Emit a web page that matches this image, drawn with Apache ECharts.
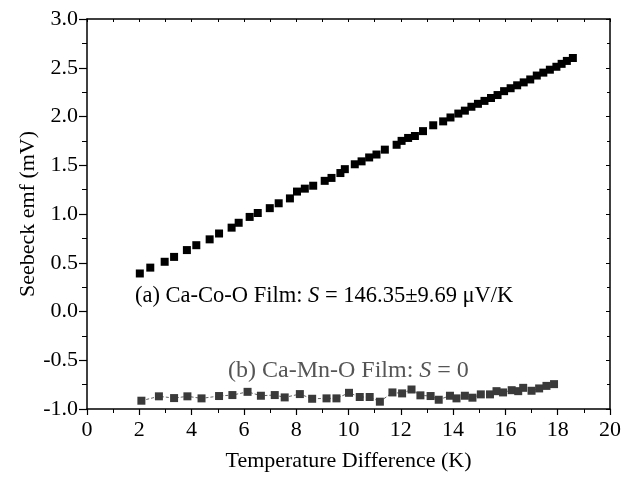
<!DOCTYPE html>
<html>
<head>
<meta charset="utf-8"/>
<title>Seebeck emf</title>
<script src="https://cdn.jsdelivr.net/npm/echarts@6/dist/echarts.min.js"></script>
<style>
    html, body { margin: 0; padding: 0; background: #fff; }
    #chart { width: 632px; height: 477px; }
</style>
</head>
<body>
<div id="chart"></div>
<script>
    // (a) Ca-Co-O film
    var coX = [2.02, 2.42, 2.97, 3.33, 3.82, 4.18, 4.69, 5.05, 5.53, 5.80, 6.22, 6.53, 6.99, 7.33, 7.76,
        8.03, 8.33, 8.65, 9.09, 9.35, 9.69, 9.86, 10.24, 10.50, 10.79, 11.07, 11.39, 11.84, 12.03, 12.28,
        12.54, 12.85, 13.24, 13.62, 13.90, 14.20, 14.45, 14.70, 14.95, 15.20, 15.45, 15.70, 15.95, 16.20,
        16.45, 16.70, 16.95, 17.20, 17.45, 17.70, 17.95, 18.15, 18.35, 18.58];
    var coY = [0.39, 0.45, 0.51, 0.56, 0.63, 0.68, 0.74, 0.80, 0.86, 0.91, 0.97, 1.01, 1.06, 1.11, 1.16,
        1.23, 1.26, 1.29, 1.34, 1.37, 1.42, 1.46, 1.51, 1.54, 1.58, 1.61, 1.66, 1.71, 1.75, 1.78,
        1.80, 1.85, 1.91, 1.95, 1.99, 2.03, 2.06, 2.10, 2.13, 2.16, 2.19, 2.22, 2.26, 2.29,
        2.32, 2.35, 2.38, 2.42, 2.45, 2.48, 2.51, 2.54, 2.57, 2.60];

    // (b) Ca-Mn-O film
    var mnX = [2.08, 2.75, 3.33, 3.84, 4.38, 5.05, 5.56, 6.14, 6.65, 7.18, 7.56, 8.14, 8.61, 9.16, 9.54,
        10.02, 10.43, 10.81, 11.20, 11.68, 12.05, 12.41, 12.75, 13.14, 13.45, 13.88, 14.13, 14.45, 14.74,
        15.06, 15.41, 15.66, 15.91, 16.24, 16.49, 16.68, 17.00, 17.29, 17.57, 17.86];
    var mnY = [-0.915, -0.870, -0.888, -0.870, -0.891, -0.867, -0.857, -0.824, -0.864, -0.857, -0.881, -0.847,
        -0.895, -0.891, -0.891, -0.834, -0.877, -0.877, -0.925, -0.830, -0.840, -0.800, -0.860, -0.867, -0.905,
        -0.864, -0.891, -0.864, -0.884, -0.850, -0.850, -0.817, -0.830, -0.807, -0.817, -0.783, -0.813,
        -0.789, -0.763, -0.745];

    var xTicks = [0, 20, 2];
    var yTicks = [-1, 3, 0.5];

    function pairs(xs, ys) {
        var out = [];
        for (var i = 0; i < xs.length; i++) out.push([xs[i], ys[i]]);
        return out;
    }

    var font = 'Liberation Serif, Times New Roman, serif';
    var fs = 22;
    var axisLine = {show: true, onZero: false, lineStyle: {color: '#000', width: 1.5}};

    var myChart = echarts.init(document.getElementById('chart'));
    var option = {
        animation: false,
        backgroundColor: '#fff',
        grid: {left: 87, right: 22, top: 19, bottom: 63},
        xAxis: [
            {
                type: 'value', min: xTicks[0], max: xTicks[1], interval: xTicks[2],
                name: 'Temperature Difference (K)', nameLocation: 'middle', nameGap: 41,
                nameMoveOverlap: false,
                nameTextStyle: {fontFamily: font, fontSize: fs, color: '#000'},
                axisLine: axisLine,
                axisTick: {show: true, inside: false, length: 6, lineStyle: {color: '#000', width: 1.2}},
                minorTick: {show: true, splitNumber: 2, length: 4, lineStyle: {color: '#000', width: 1}},
                axisLabel: {fontFamily: font, fontSize: fs, color: '#000', margin: 10},
                splitLine: {show: false}
            },
            {
                type: 'value', position: 'top', min: xTicks[0], max: xTicks[1], interval: xTicks[2],
                axisLine: axisLine,
                axisTick: {show: true, inside: true, length: 3, lineStyle: {color: '#000', width: 1}},
                minorTick: {show: true, splitNumber: 2, length: 3, lineStyle: {color: '#000', width: 1}},
                axisLabel: {show: false},
                splitLine: {show: false}
            }
        ],
        yAxis: [
            {
                type: 'value', min: yTicks[0], max: yTicks[1], interval: yTicks[2],
                name: 'Seebeck emf (mV)', nameLocation: 'middle', nameGap: 48,
                nameMoveOverlap: false,
                nameTextStyle: {fontFamily: font, fontSize: fs, color: '#000'},
                axisLine: axisLine,
                axisTick: {show: true, inside: false, length: 8, lineStyle: {color: '#000', width: 1.2}},
                minorTick: {show: true, splitNumber: 2, length: 5, lineStyle: {color: '#000', width: 1}},
                axisLabel: {
                    fontFamily: font, fontSize: fs, color: '#000', margin: 9,
                    formatter: function (v) { return v.toFixed(1); }
                },
                splitLine: {show: false}
            },
            {
                type: 'value', position: 'right', min: yTicks[0], max: yTicks[1], interval: yTicks[2],
                axisLine: axisLine,
                axisTick: {show: true, inside: true, length: 4, lineStyle: {color: '#000', width: 1}},
                minorTick: {show: true, splitNumber: 2, length: 3, lineStyle: {color: '#000', width: 1}},
                axisLabel: {show: false},
                splitLine: {show: false}
            }
        ],
        series: [
            {
                name: 'Ca-Co-O',
                type: 'scatter',
                symbol: 'rect',
                symbolSize: 8,
                itemStyle: {color: '#000', opacity: 1},
                data: pairs(coX, coY)
            },
            {
                name: 'Ca-Mn-O',
                type: 'line',
                symbol: 'rect',
                symbolSize: 8,
                showSymbol: true,
                itemStyle: {color: '#3a3a3a'},
                lineStyle: {color: '#3a3a3a', width: 0.8, type: [3, 2]},
                data: pairs(mnX, mnY)
            }
        ],
        graphic: [
            {
                type: 'text', left: 135, top: 285,
                style: {
                    text: '{n|(a) Ca-Co-O Film: }{i|S}{n| = 146.35±9.69 μV/K}',
                    rich: {
                        n: {fontFamily: font, fontSize: 22.5, fill: '#000'},
                        i: {fontFamily: font, fontSize: 22.5, fontStyle: 'italic', fill: '#000'}
                    }
                }
            },
            {
                type: 'text', left: 228, top: 359,
                style: {
                    text: '{n|(b) Ca-Mn-O Film: }{i|S}{n| = 0}',
                    rich: {
                        n: {fontFamily: font, fontSize: 24, fill: '#555'},
                        i: {fontFamily: font, fontSize: 24, fontStyle: 'italic', fill: '#555'}
                    }
                }
            }
        ]
    };
    myChart.setOption(option);
</script>
</body>
</html>
